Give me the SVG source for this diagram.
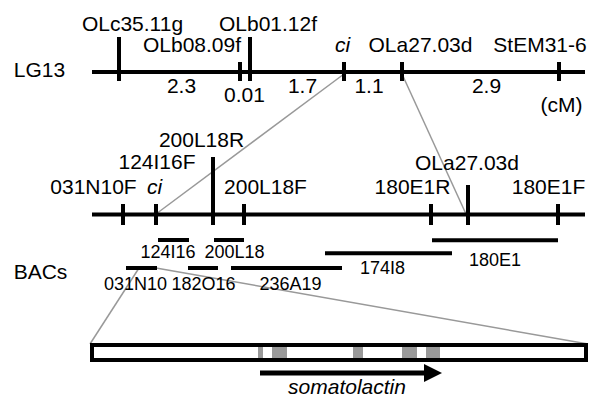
<svg xmlns="http://www.w3.org/2000/svg" width="592" height="398" viewBox="0 0 592 398">
<style>
text{font-family:"Liberation Sans",Arial,sans-serif;fill:#000;text-anchor:middle}
.m{font-size:21px}
.b{font-size:18px}
.i{font-style:italic}
.ax{stroke:#000;stroke-width:4;fill:none}
.tk{stroke:#000;stroke-width:4}
.bac{stroke:#000;stroke-width:4}
.zoom{stroke:#999;stroke-width:1.5;fill:none}
.exon{fill:#999}
</style>
<rect width="592" height="398" fill="#fff"/>
<g id="connectors">
<line class="zoom" x1="344" y1="74" x2="156" y2="214"/>
<line class="zoom" x1="402" y1="74" x2="466" y2="214"/>
<line class="zoom" x1="139" y1="268" x2="90" y2="344"/>
<line class="zoom" x1="156" y1="268" x2="588" y2="344"/>
</g>
<g id="lg13">
<text class="m" x="39.5" y="77">LG13</text>
<line class="ax" x1="92" y1="72" x2="585" y2="72"/>
<line class="tk" x1="119" y1="37" x2="119" y2="81"/>
<line class="tk" x1="240" y1="62" x2="240" y2="81"/>
<line class="tk" x1="250" y1="37" x2="250" y2="81"/>
<line class="tk" x1="344" y1="62" x2="344" y2="81"/>
<line class="tk" x1="402" y1="62" x2="402" y2="81"/>
<line class="tk" x1="559" y1="62" x2="559" y2="81"/>
<text class="m" x="132.5" y="31">OLc35.11g</text>
<text class="m" x="192" y="52">OLb08.09f</text>
<text class="m" x="268" y="31">OLb01.12f</text>
<text class="m i" x="342.5" y="52">ci</text>
<text class="m" x="420.5" y="52">OLa27.03d</text>
<text class="m" x="540" y="52">StEM31-6</text>
<text class="m" x="181.5" y="93">2.3</text>
<text class="m" x="244.5" y="102">0.01</text>
<text class="m" x="302.5" y="93">1.7</text>
<text class="m" x="369" y="93">1.1</text>
<text class="m" x="486.5" y="93">2.9</text>
<text class="m" x="561.5" y="112">(cM)</text>
</g>
<g id="physical-map">
<line class="ax" x1="92" y1="214.5" x2="585" y2="214.5"/>
<line class="tk" x1="123" y1="204" x2="123" y2="225"/>
<line class="tk" x1="156" y1="204" x2="156" y2="225"/>
<line class="tk" x1="213" y1="157" x2="213" y2="225"/>
<line class="tk" x1="244" y1="204" x2="244" y2="225"/>
<line class="tk" x1="431" y1="204" x2="431" y2="225"/>
<line class="tk" x1="468" y1="185" x2="468" y2="225"/>
<line class="tk" x1="558" y1="204" x2="558" y2="225"/>
<text class="m" x="93.5" y="194">031N10F</text>
<text class="m i" x="154.5" y="194">ci</text>
<text class="m" x="157" y="169">124I16F</text>
<text class="m" x="201.5" y="147">200L18R</text>
<text class="m" x="265.5" y="194">200L18F</text>
<text class="m" x="412.5" y="194">180E1R</text>
<text class="m" x="467" y="170">OLa27.03d</text>
<text class="m" x="548.5" y="193.5">180E1F</text>
</g>
<g id="bacs">
<text class="m" x="40.5" y="279">BACs</text>
<line class="bac" x1="158" y1="240" x2="189" y2="240"/>
<line class="bac" x1="214" y1="240" x2="244" y2="240"/>
<line class="bac" x1="432" y1="240.3" x2="558" y2="240.3"/>
<line class="bac" x1="325" y1="253.3" x2="452" y2="253.3"/>
<line class="bac" x1="126" y1="268" x2="157" y2="268"/>
<line class="bac" x1="188" y1="268" x2="218" y2="268"/>
<line class="bac" x1="231" y1="268" x2="342" y2="268"/>
<text class="b" x="168" y="258">124I16</text>
<text class="b" x="234.5" y="258">200L18</text>
<text class="b" x="382.5" y="274">174I8</text>
<text class="b" x="495" y="266">180E1</text>
<text class="b" x="135.5" y="290">031N10</text>
<text class="b" x="203.5" y="290">182O16</text>
<text class="b" x="290.5" y="290">236A19</text>
</g>
<g id="gene">
<rect x="92" y="345" width="494" height="15" fill="#fff" stroke="#000" stroke-width="4"/>
<rect class="exon" x="258" y="347" width="5" height="11"/>
<rect class="exon" x="272" y="347" width="15" height="11"/>
<rect class="exon" x="353" y="347" width="10" height="11"/>
<rect class="exon" x="402" y="347" width="15" height="11"/>
<rect class="exon" x="426" y="347" width="14" height="11"/>
<line stroke="#000" stroke-width="5" x1="260" y1="373" x2="428" y2="373"/>
<polygon points="424,364 442,373 424,382" fill="#000"/>
<text class="m i" x="347" y="394">somatolactin</text>
</g>
</svg>
